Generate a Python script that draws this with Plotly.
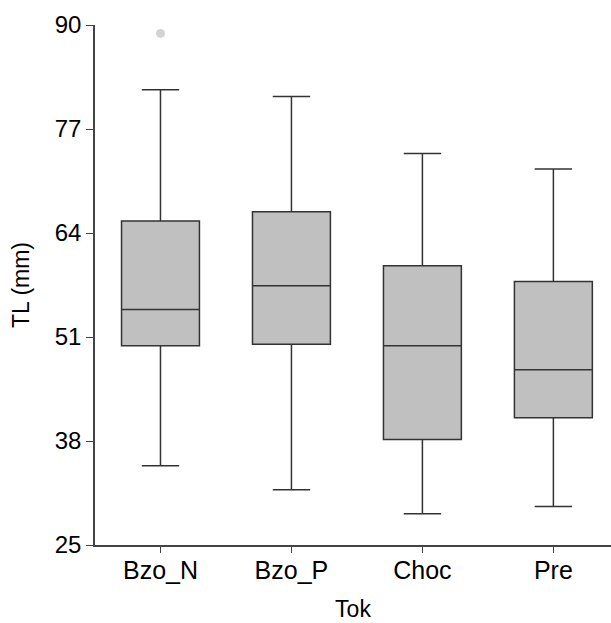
import plotly.graph_objects as go

categories = ["Bzo_N", "Bzo_P", "Choc", "Pre"]
lower = [34.9, 31.9, 28.9, 29.8]
q1 = [49.9, 50.1, 38.2, 40.9]
median = [54.45, 57.4, 49.9, 46.9]
q3 = [65.5, 66.65, 59.9, 57.95]
upper = [81.9, 81.05, 73.95, 72.0]
outlier_cat = ["Bzo_N"]
outlier_val = [88.95]
yticks = [25, 38, 51, 64, 77, 90]

fig = go.Figure()
fig.add_trace(go.Box(
    x=categories, q1=q1, median=median, q3=q3,
    lowerfence=lower, upperfence=upper,
    fillcolor="#c0c0c0",
    line=dict(color="#333333", width=1.5),
    width=0.595, whiskerwidth=0.48,
    boxpoints=False, showlegend=False,
))
fig.add_trace(go.Scatter(
    x=outlier_cat, y=outlier_val, mode="markers",
    marker=dict(color="#d3d3d3", size=9), showlegend=False,
))

font = "Liberation Sans, Arial, sans-serif"
fig.update_layout(
    width=611, height=623,
    margin=dict(l=95, r=0, t=25, b=78),
    plot_bgcolor="white", paper_bgcolor="white",
    font=dict(family=font, size=24, color="black"),
    xaxis=dict(
        type="category", categoryorder="array", categoryarray=categories,
        range=[-0.5, 3.44], showline=True, linecolor="#444444", linewidth=1.5,
        ticks="outside", ticklen=6, tickcolor="#444444", showgrid=False,
        zeroline=False, tickfont=dict(size=25), ticklabelstandoff=-4,
        title=dict(text="Tok", font=dict(size=23), standoff=18),
    ),
    yaxis=dict(
        range=[25, 90], tickvals=yticks, showline=True, linecolor="#444444",
        linewidth=1.5, ticks="outside", ticklen=7, tickcolor="#444444",
        showgrid=False, zeroline=False, tickfont=dict(size=24),
        title=dict(text="TL (mm)", font=dict(size=23), standoff=19),
    ),
)
fig.write_html("out.html")
